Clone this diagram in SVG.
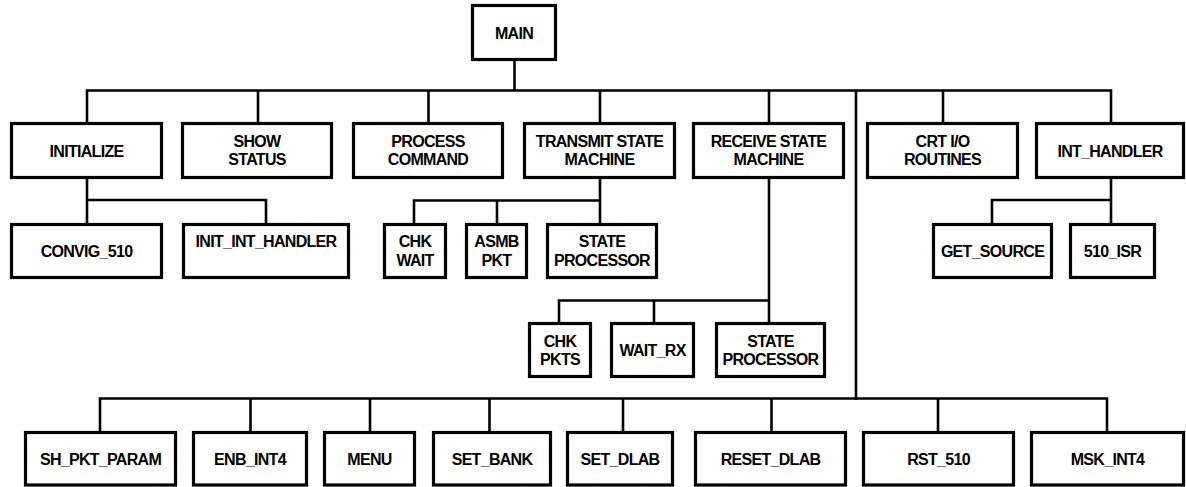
<svg xmlns="http://www.w3.org/2000/svg" width="1186" height="487" viewBox="0 0 1186 487">
<style>
.box{fill:#fff;stroke:#000;stroke-width:3.2}
.ln{fill:none;stroke:#000;stroke-width:2.6;stroke-linecap:square}
text{font-family:"Liberation Sans",Arial,sans-serif;font-weight:bold;font-size:16px;letter-spacing:-0.7px;text-anchor:middle;fill:#000}
</style>
<rect width="1186" height="487" fill="#fff"/>
<g id="connectors" class="ln">
<path d="M514.5 61V90.5M87 90.5H1111M87 90.5V122M258 90.5V122M428.5 90.5V122M600 90.5V122M769 90.5V122M943 90.5V122M1111 90.5V122M856 90.5V398.5"/>
<path d="M87 179V223M87 200H266V223"/>
<path d="M600 179V223M414 200.5H600M414 200.5V223M497 200.5V223"/>
<path d="M769 179V322M559 300.5H769M559 300.5V322M654 300.5V322"/>
<path d="M1111 179V223M992 200H1111M992 200V223"/>
<path d="M100 398.5H1107M100 398.5V431M250.5 398.5V431M370 398.5V431M489.5 398.5V431M623 398.5V431M771.5 398.5V431M938 398.5V431M1107 398.5V431"/>
</g>
<g id="main"><rect class="box" x="472.5" y="5.5" width="83" height="54"/><text x="514" y="38.5">MAIN</text></g>
<g id="initialize"><rect class="box" x="11.5" y="123.5" width="150" height="54"/><text x="86.5" y="156.5">INITIALIZE</text></g>
<g id="show_status"><rect class="box" x="182.5" y="123.5" width="149" height="54"/><text x="257" y="146.5">SHOW</text><text x="257" y="165">STATUS</text></g>
<g id="process_command"><rect class="box" x="353.5" y="123.5" width="149" height="54"/><text x="428" y="146.5">PROCESS</text><text x="428" y="165">COMMAND</text></g>
<g id="transmit"><rect class="box" x="524.5" y="123.5" width="150" height="54"/><text x="599.5" y="146.5">TRANSMIT STATE</text><text x="599.5" y="165">MACHINE</text></g>
<g id="receive"><rect class="box" x="693.5" y="123.5" width="150" height="54"/><text x="768.5" y="146.5">RECEIVE STATE</text><text x="768.5" y="165">MACHINE</text></g>
<g id="crt_io"><rect class="box" x="867.5" y="123.5" width="150" height="54"/><text x="942.5" y="146.5">CRT I/O</text><text x="942.5" y="165">ROUTINES</text></g>
<g id="int_handler"><rect class="box" x="1036.5" y="123.5" width="147" height="54"/><text x="1110" y="156.5">INT_HANDLER</text></g>
<g id="convig_510"><rect class="box" x="11.5" y="224.5" width="150" height="53"/><text x="86.5" y="257">CONVIG_510</text></g>
<g id="init_int_handler"><rect class="box" x="183.5" y="224.5" width="165" height="53"/><text x="266" y="247">INIT_INT_HANDLER</text></g>
<g id="chk_wait"><rect class="box" x="384.5" y="224.5" width="61" height="53"/><text x="415" y="247">CHK</text><text x="415" y="265.5">WAIT</text></g>
<g id="asmb_pkt"><rect class="box" x="466.5" y="224.5" width="60" height="53"/><text x="496.5" y="247">ASMB</text><text x="496.5" y="265.5">PKT</text></g>
<g id="state_processor_tx"><rect class="box" x="547.5" y="224.5" width="109" height="53"/><text x="602" y="247">STATE</text><text x="602" y="265.5">PROCESSOR</text></g>
<g id="get_source"><rect class="box" x="933.5" y="224.5" width="118" height="53"/><text x="992.5" y="257">GET_SOURCE</text></g>
<g id="isr_510"><rect class="box" x="1070.5" y="224.5" width="84" height="53"/><text x="1112.5" y="257">510_ISR</text></g>
<g id="chk_pkts"><rect class="box" x="529.5" y="323.5" width="61" height="53"/><text x="560" y="346.5">CHK</text><text x="560" y="365">PKTS</text></g>
<g id="wait_rx"><rect class="box" x="611.5" y="323.5" width="82" height="53"/><text x="652.5" y="356">WAIT_RX</text></g>
<g id="state_processor_rx"><rect class="box" x="716.5" y="323.5" width="108" height="53"/><text x="770.5" y="346.5">STATE</text><text x="770.5" y="365">PROCESSOR</text></g>
<g id="sh_pkt_param"><rect class="box" x="25.5" y="432.5" width="150" height="52.5"/><text x="100.5" y="465">SH_PKT_PARAM</text></g>
<g id="enb_int4"><rect class="box" x="193.5" y="432.5" width="113" height="52.5"/><text x="250" y="465">ENB_INT4</text></g>
<g id="menu"><rect class="box" x="324.5" y="432.5" width="90" height="52.5"/><text x="369.5" y="465">MENU</text></g>
<g id="set_bank"><rect class="box" x="433.5" y="432.5" width="117" height="52.5"/><text x="492" y="465">SET_BANK</text></g>
<g id="set_dlab"><rect class="box" x="567.5" y="432.5" width="105" height="52.5"/><text x="620" y="465">SET_DLAB</text></g>
<g id="reset_dlab"><rect class="box" x="695.5" y="432.5" width="150" height="52.5"/><text x="770.5" y="465">RESET_DLAB</text></g>
<g id="rst_510"><rect class="box" x="863.5" y="432.5" width="150" height="52.5"/><text x="938.5" y="465">RST_510</text></g>
<g id="msk_int4"><rect class="box" x="1031.5" y="432.5" width="152" height="52.5"/><text x="1107.5" y="465">MSK_INT4</text></g>
</svg>
